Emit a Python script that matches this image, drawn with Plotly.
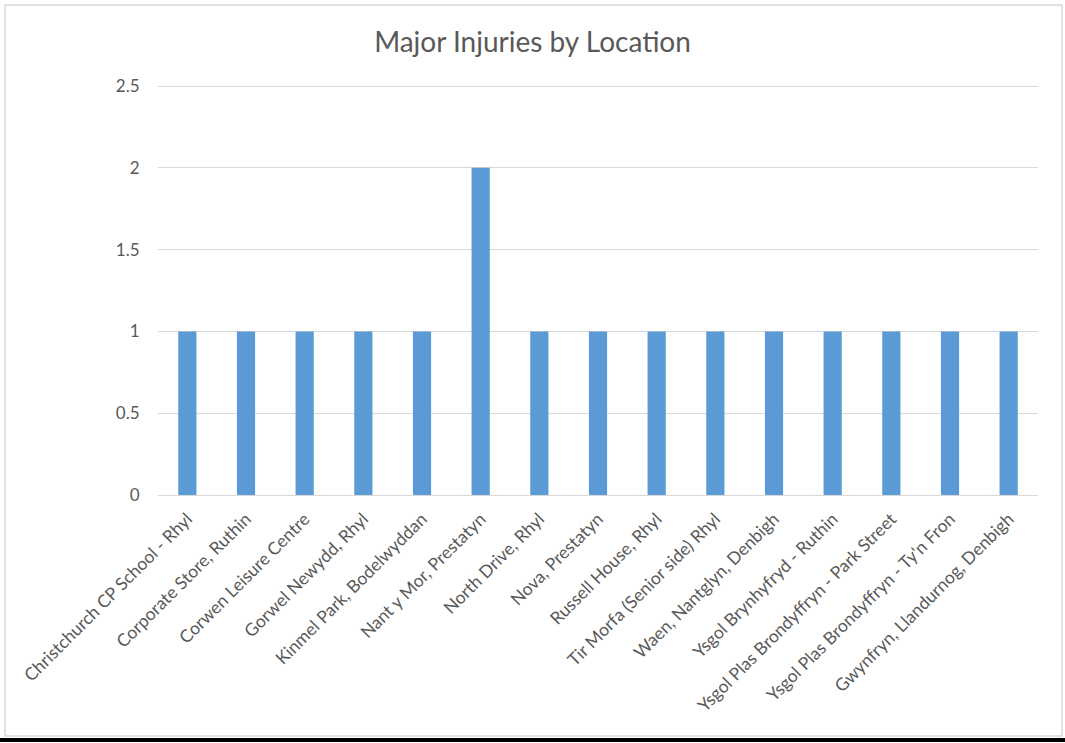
import plotly.graph_objects as go

locations = [
    "Christchurch CP School - Rhyl",
    "Corporate Store, Ruthin",
    "Corwen Leisure Centre",
    "Gorwel Newydd, Rhyl",
    "Kinmel Park, Bodelwyddan",
    "Nant y Mor, Prestatyn",
    "North Drive, Rhyl",
    "Nova, Prestatyn",
    "Russell House, Rhyl",
    "Tir Morfa (Senior side) Rhyl",
    "Waen, Nantglyn, Denbigh",
    "Ysgol Brynhyfryd - Ruthin",
    "Ysgol Plas Brondyffryn - Park Street",
    "Ysgol Plas Brondyffryn - Ty'n Fron",
    "Gwynfryn, Llandurnog, Denbigh",
]
injuries = [1, 1, 1, 1, 1, 2, 1, 1, 1, 1, 1, 1, 1, 1, 1]
y_ticks = [0, 0.5, 1, 1.5, 2, 2.5]
y_tick_labels = ["0", "0.5", "1", "1.5", "2", "2.5"]

W, H = 1065, 743
L, R, T, B = 158, 27, 83, 248
y_zero_px, y_top_px = 495, 86
y_max = 2.5 * (y_zero_px - T) / (y_zero_px - y_top_px)

fig = go.Figure(go.Bar(
    x=locations, y=injuries,
    marker=dict(color="#5b9bd5", line=dict(width=0)),
    width=0.31,
))

pw = W - L - R
ph = H - T - B
def px_x(x):
    return (x - L) / pw
def px_y(y):
    return (H - B - y) / ph

fig.update_layout(
    width=W, height=H,
    margin=dict(l=L, r=R, t=T, b=B),
    paper_bgcolor="white", plot_bgcolor="white",
    font=dict(family="Lato, 'Open Sans', sans-serif", color="#595959", size=17),
    title=dict(text="Major Injuries by Location", x=0.5, xref="container",
               y=1 - 42 / H, yref="container", yanchor="middle", xanchor="center",
               font=dict(size=28, color="#595959")),
    showlegend=False,
    xaxis=dict(tickangle=-45, showgrid=False, showline=False, zeroline=False,
               ticks="outside", ticklen=6, tickcolor="rgba(0,0,0,0)",
               tickfont=dict(size=17.5, color="#595959")),
    yaxis=dict(range=[0, y_max], tickvals=y_ticks, ticktext=y_tick_labels,
               showgrid=True, gridcolor="#d9d9d9", gridwidth=1,
               zeroline=True, zerolinecolor="#d9d9d9", zerolinewidth=1,
               showline=False, ticks="outside", ticklen=14,
               tickcolor="rgba(0,0,0,0)",
               tickfont=dict(size=17, color="#595959")),
    shapes=[
        dict(type="rect", xref="paper", yref="paper",
             x0=px_x(5), x1=px_x(1062), y0=px_y(736), y1=px_y(5),
             line=dict(color="#d9d9d9", width=1.5), fillcolor="rgba(0,0,0,0)",
             layer="below"),
        dict(type="line", xref="paper", yref="paper",
             x0=px_x(0), x1=px_x(W), y0=px_y(740), y1=px_y(740),
             line=dict(color="black", width=4)),
    ],
)

fig.write_html(
    "out.html",
    config={"displayModeBar": False},
    post_script="document.body.style.margin='0';document.body.style.overflow='hidden';",
)
